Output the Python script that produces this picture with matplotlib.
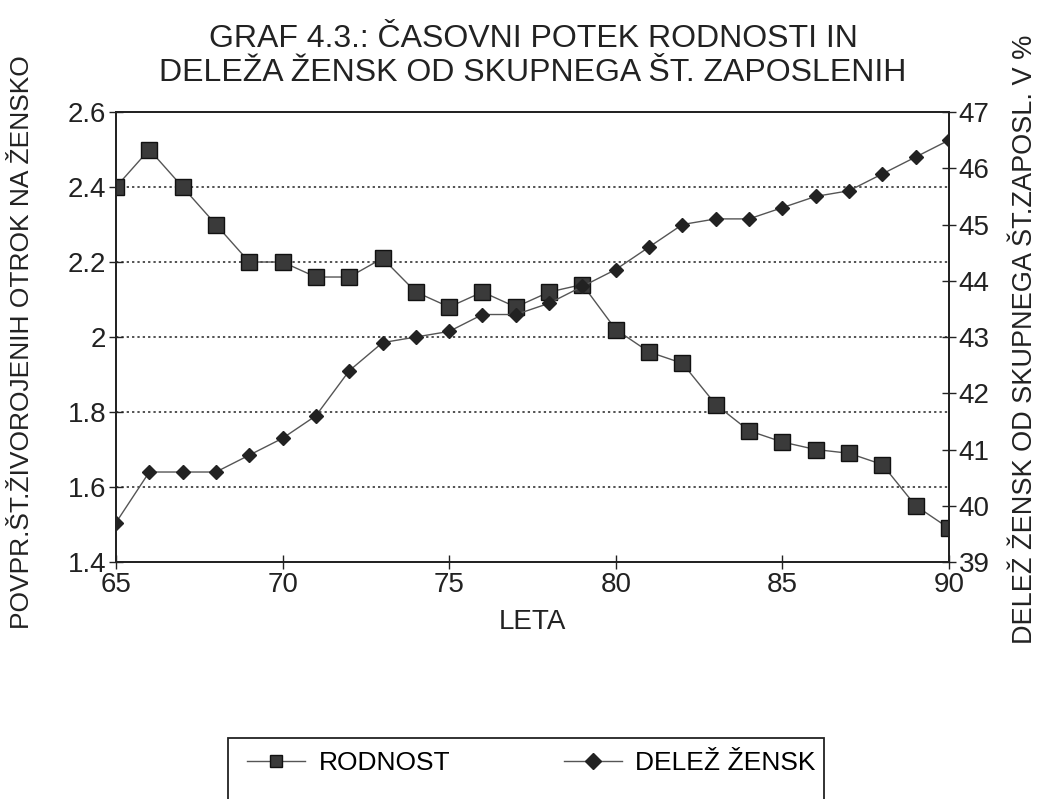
import numpy as np
import matplotlib
matplotlib.use("Agg")
import matplotlib.pyplot as plt
from matplotlib.patches import Rectangle

plt.rcParams['font.family'] = ['Liberation Sans', 'DejaVu Sans']

# ---------------------------------------------------------------------------
# Data
# ---------------------------------------------------------------------------
years = list(range(65, 91))
rodnost = [2.40, 2.50, 2.40, 2.30, 2.20, 2.20, 2.16, 2.16, 2.21, 2.12,
           2.08, 2.12, 2.08, 2.12, 2.14, 2.02, 1.96, 1.93, 1.82, 1.75,
           1.72, 1.70, 1.69, 1.66, 1.55, 1.49]
delez_zensk = [39.7, 40.6, 40.6, 40.6, 40.9, 41.2, 41.6, 42.4, 42.9, 43.0,
               43.1, 43.4, 43.4, 43.6, 43.9, 44.2, 44.6, 45.0, 45.1, 45.1,
               45.3, 45.5, 45.6, 45.9, 46.2, 46.5]

title = "GRAF 4.3.: ČASOVNI POTEK RODNOSTI IN\nDELEŽA ŽENSK OD SKUPNEGA ŠT. ZAPOSLENIH"
left_label = "POVPR.ŠT.ŽIVOROJENIH OTROK NA ŽENSKO"
right_label = "DELEŽ ŽENSK OD SKUPNEGA ŠT.ZAPOSL. V %"
x_label = "LETA"

W, H = 1041, 799
fig = plt.figure(figsize=(W / 100, H / 100), dpi=100)
ax = fig.add_axes([0.1114, 0.2966, 0.8002, 0.5632])
ax2 = ax.twinx()

l1, = ax.plot(years, rodnost, color='#555555', linewidth=1.0,
              marker='s', markersize=11, markerfacecolor='#3a3a3a',
              markeredgecolor='#111111', markeredgewidth=1.0, label='RODNOST')
l2, = ax2.plot(years, delez_zensk, color='#555555', linewidth=1.0,
               marker='D', markersize=7, markerfacecolor='#222222',
               markeredgecolor='#222222', label='DELEŽ ŽENSK')

ax.set_xlim(65, 90)
ax.set_ylim(1.4, 2.6)
ax2.set_ylim(39, 47)
ax.set_xticks(range(65, 91, 5))
ax.set_yticks(np.arange(1.4, 2.61, 0.2))
ax.set_yticklabels(['1.4', '1.6', '1.8', '2', '2.2', '2.4', '2.6'])
ax2.set_yticks(range(39, 48))

for y in [1.6, 1.8, 2.0, 2.2, 2.4]:
    ax.axhline(y, color='#222222', linestyle=(0, (1.5, 2.0)), linewidth=1.1, zorder=0)

for a in (ax, ax2):
    for s in a.spines.values():
        s.set_linewidth(1.3)
        s.set_color('#222222')
ax.tick_params(axis='both', direction='inout', length=10, width=1.0,
               labelsize=20, pad=2, colors='#222222')
ax2.tick_params(axis='y', direction='inout', length=10, width=1.0,
                labelsize=20, pad=2, colors='#222222')

ax.set_xlabel(x_label, fontsize=20, color='#222222', labelpad=8)
fig.text(0.021, 0.572, left_label, rotation=90, ha='center', va='center',
         fontsize=19, color='#222222')
fig.text(0.985, 0.575, right_label, rotation=90, ha='center', va='center',
         fontsize=19.5, color='#222222')
fig.text(0.512, 0.93, title, ha='center', va='center', fontsize=23,
         color='#222222', linespacing=1.2)

# legend: box runs off the bottom of the page as in the scan
fig.add_artist(Rectangle((228 / W, 1 - 830 / H), (824 - 228) / W, (830 - 738) / H,
                         transform=fig.transFigure, facecolor='none',
                         edgecolor='#222222', linewidth=1.3, clip_on=False))
leg = fig.legend(handles=[l1, l2], loc='center left', ncol=2,
                 bbox_to_anchor=(234 / W, 1 - 763 / H), fontsize=19, frameon=False,
                 handlelength=2.2, handletextpad=0.5, columnspacing=4.3,
                 borderpad=0.0)
for h in leg.legend_handles:
    h.set_markersize(8)

fig.savefig("out.png", dpi=100)
